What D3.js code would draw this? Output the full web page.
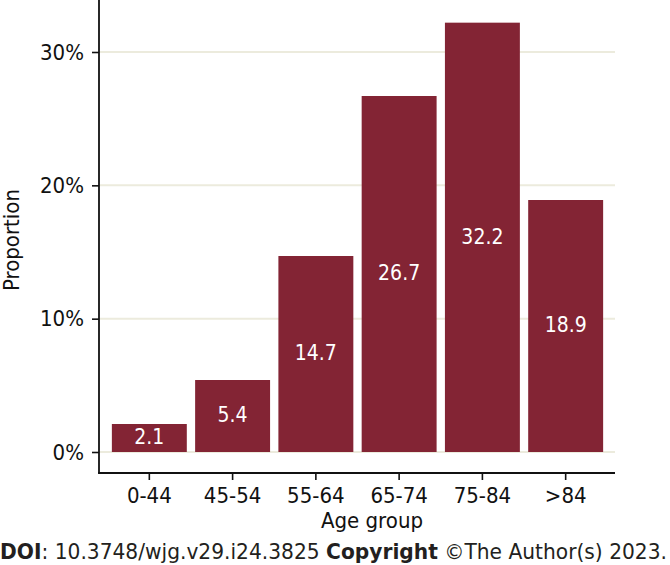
<!DOCTYPE html>
<html>
<head>
<meta charset="utf-8">
<script src="https://cdn.jsdelivr.net/npm/d3@7"></script>
<style>
  html, body { margin: 0; padding: 0; background: #fff; }
  svg { display: block; }
  text { font-family: "DejaVu Sans Condensed", "DejaVu Sans", sans-serif; font-stretch: condensed; }
</style>
</head>
<body>
<svg id="chart" width="670" height="565"></svg>
<script>
const categories = ["0-44", "45-54", "55-64", "65-74", "75-84", ">84"];
const values = [2.1, 5.4, 14.7, 26.7, 32.2, 18.9];
const yTicks = [0, 10, 20, 30];
const xTitle = "Age group";
const yTitle = "Proportion";

const svg = d3.select("#chart");
const barColor = "#832434";
const gridColor = "#ecebdd";

const x = d3.scaleBand().domain(categories).range([107.7, 607.3]).paddingInner(0.1).paddingOuter(0.05);
const y = d3.scaleLinear().domain([0, 30]).range([452, 52]);

const panelLeft = 99, panelRight = 615, panelTop = 0, panelBottom = 473;

// grid
svg.append("g").selectAll("line").data(yTicks).join("line")
  .attr("x1", panelLeft).attr("x2", panelRight)
  .attr("y1", d => y(d)).attr("y2", d => y(d))
  .attr("stroke", gridColor).attr("stroke-width", 2);

// bars
svg.append("g").selectAll("rect").data(values).join("rect")
  .attr("x", (d, i) => x(categories[i]))
  .attr("width", x.bandwidth())
  .attr("y", d => y(d))
  .attr("height", d => y(0) - y(d))
  .attr("fill", barColor);

// bar labels
svg.append("g").selectAll("text").data(values).join("text")
  .attr("x", (d, i) => x(categories[i]) + x.bandwidth() / 2)
  .attr("y", d => y(d / 2))
  .attr("dy", "0.3em")
  .attr("text-anchor", "middle")
  .attr("fill", "#ffffff")
  .attr("font-size", 21)
  .text(d => d.toFixed(1));

// y axis
const yAxis = d3.axisLeft(y).tickValues(yTicks).tickFormat(d => d + "%").tickSize(7).tickPadding(8);
const gy = svg.append("g").attr("transform", `translate(${panelLeft},0)`).call(yAxis);
gy.select(".domain").remove();
gy.selectAll(".tick line").attr("stroke", "#111").attr("stroke-width", 1.6);
gy.selectAll(".tick text").attr("font-size", 22).attr("fill", "#111")
  .attr("font-family", "DejaVu Sans Condensed, DejaVu Sans, sans-serif");
svg.append("line").attr("x1", panelLeft).attr("x2", panelLeft).attr("y1", panelTop).attr("y2", panelBottom + 0.8)
  .attr("stroke", "#111").attr("stroke-width", 1.8);

// x axis
const xAxis = d3.axisBottom(x).tickSize(7).tickPadding(7);
const gx = svg.append("g").attr("transform", `translate(0,${panelBottom})`).call(xAxis);
gx.select(".domain").remove();
gx.selectAll(".tick line").attr("stroke", "#111").attr("stroke-width", 1.6);
gx.selectAll(".tick text").attr("font-size", 22).attr("fill", "#111")
  .attr("font-family", "DejaVu Sans Condensed, DejaVu Sans, sans-serif");
svg.append("line").attr("x1", panelLeft - 0.9).attr("x2", panelRight).attr("y1", panelBottom).attr("y2", panelBottom)
  .attr("stroke", "#111").attr("stroke-width", 1.8);

// titles
svg.append("text").attr("x", 372).attr("y", 528).attr("text-anchor", "middle")
  .attr("font-size", 22).attr("fill", "#111").text(xTitle);
svg.append("text").attr("transform", "translate(19,240) rotate(-90)").attr("text-anchor", "middle")
  .attr("font-size", 22).attr("fill", "#111").text(yTitle);

// footer
const foot = svg.append("text").attr("x", 0).attr("y", 559).attr("font-size", 22).attr("fill", "#231f20")
  .attr("textLength", 667).attr("lengthAdjust", "spacingAndGlyphs");
foot.append("tspan").attr("font-weight", "bold").text("DOI");
foot.append("tspan").text(": 10.3748/wjg.v29.i24.3825 ");
foot.append("tspan").attr("font-weight", "bold").text("Copyright");
foot.append("tspan").text(" ©The Author(s) 2023.");
</script>
</body>
</html>
